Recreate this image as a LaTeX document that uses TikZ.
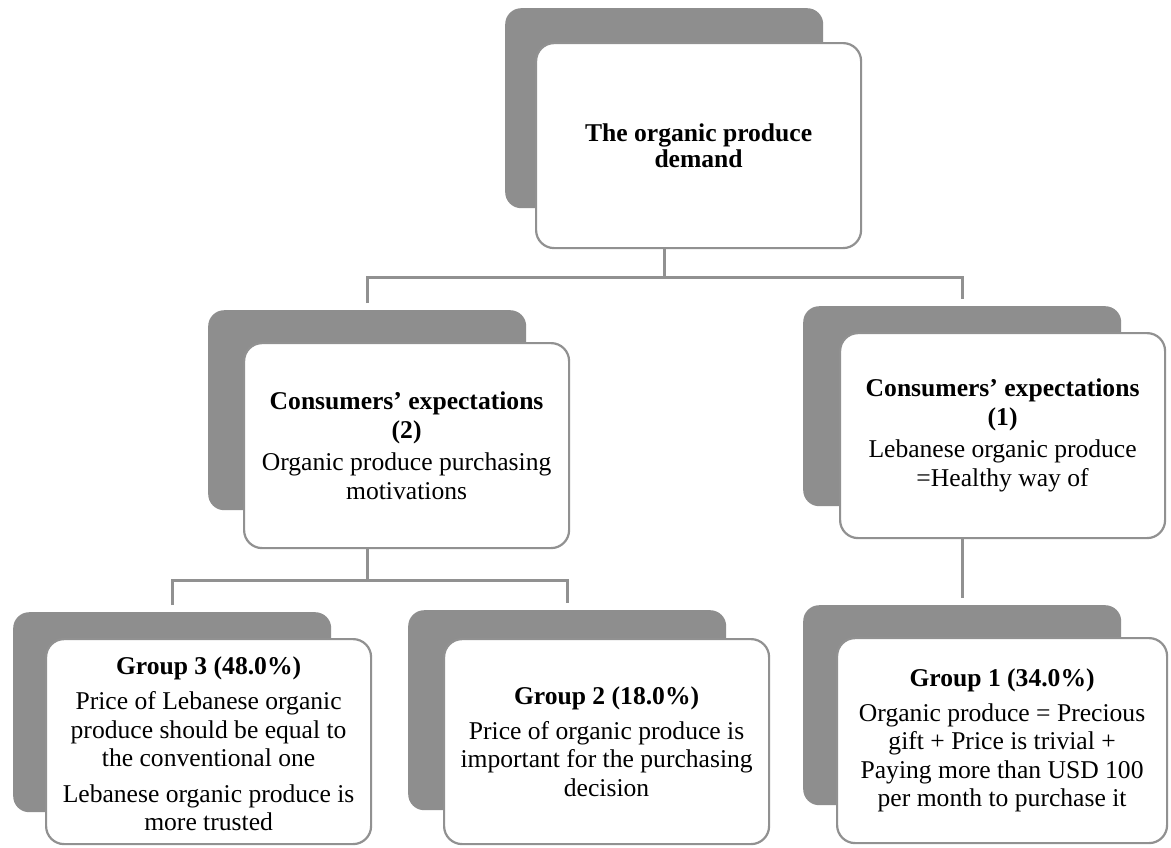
\documentclass[tikz,border=0pt]{standalone}
\usepackage{fontspec}
\setmainfont{Liberation Serif}
\definecolor{shadowgray}{RGB}{142,142,142}
\definecolor{linegray}{RGB}{145,145,145}
\begin{document}
\begin{tikzpicture}[x=1pt,y=-1pt,
  shadebox/.style={draw=none, fill=shadowgray, rounded corners=16pt,
    minimum width=318pt, minimum height=200pt, anchor=north west, inner sep=0pt},
  card/.style={draw=linegray, line width=2.2pt, fill=white, rounded corners=18pt,
    minimum width=325pt, minimum height=205pt, anchor=north west, inner sep=0pt,
    align=center, font=\fontsize{25.6}{28.5}\selectfont},
  conn/.style={draw=linegray, line width=2.6pt}]

\useasboundingbox[fill=white] (0,0) rectangle (1171,847);

% top level
\node[shadebox] (topS) at (505,8) {};
\node[card] (topW) at (535,42) {\textbf{The organic produce}\\[-3pt]\textbf{demand}};

% second level
\node[shadebox] (b2S) at (208,310) {};
\node[card] (b2W) at (243,342)
  {\textbf{Consumers' expectations}\\\textbf{(2)}\\[4pt]Organic produce purchasing\\motivations};

\node[shadebox] (b1S) at (803,306) {};
\node[card] (b1W) at (839,332)
  {\textbf{Consumers' expectations}\\\textbf{(1)}\\[4pt]Lebanese organic produce\\=Healthy way of};

% third level
\node[shadebox] (g3S) at (13,612) {};
\node[card] (g3W) at (45,638)
  {\\[-6pt]\textbf{Group 3 (48.0\%)}\\[7pt]Price of Lebanese organic\\produce should be equal to\\the conventional one\\[7pt]Lebanese organic produce is\\more trusted};

\node[shadebox] (g2S) at (408,610) {};
\node[card] (g2W) at (443,638)
  {\textbf{Group 2 (18.0\%)}\\[6pt]Price of organic produce is\\important for the purchasing\\decision};

\node[shadebox] (g1S) at (803,605) {};
\node[card, minimum width=330pt] (g1W) at (836,637)
  {\textbf{Group 1 (34.0\%)}\\[6pt]Organic produce = Precious\\gift + Price is trivial +\\Paying more than USD 100\\per month to purchase it};

% connectors
\draw[conn] (topS.south |- topW.south) -- ++(0,28) coordinate (j1);
\draw[conn] ([yshift=7pt]b2S.north) |- (j1) -| ([yshift=7pt]b1S.north);

\draw[conn] (b2S.south |- b2W.south) -- ++(0,31) coordinate (j2);
\draw[conn] ([yshift=7pt]g3S.north) |- (j2) -| ([yshift=7pt]g2S.north);

\draw[conn] (b1S.south |- b1W.south) -- ([yshift=7pt]g1S.north);
\end{tikzpicture}
\end{document}
